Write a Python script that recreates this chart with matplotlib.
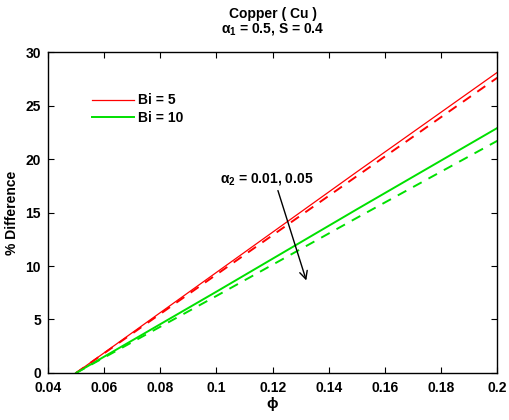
import numpy as np
import matplotlib
matplotlib.use('Agg')
import matplotlib.pyplot as plt

plt.rcParams['font.family'] = ['Liberation Sans', 'DejaVu Sans']
plt.rcParams['font.weight'] = 'bold'
plt.rcParams['axes.titleweight'] = 'bold'
plt.rcParams['axes.labelweight'] = 'bold'
plt.rcParams['mathtext.fontset'] = 'custom'
plt.rcParams['mathtext.rm'] = 'Liberation Sans:bold'
plt.rcParams['mathtext.it'] = 'Liberation Sans:bold'
plt.rcParams['mathtext.bf'] = 'Liberation Sans:bold'

# % difference vs volume fraction phi
phi = [0.05, 0.10, 0.15, 0.20]
bi5_a001 = [0.0, 9.4, 18.8, 28.1]
bi5_a005 = [0.0, 9.2, 18.4, 27.6]
bi10_a001 = [0.0, 7.6, 15.3, 22.9]
bi10_a005 = [0.0, 7.2, 14.5, 21.7]

fig = plt.figure(figsize=(5.1, 4.2), dpi=100)
ax = fig.add_axes([0.094, 0.112, 0.881, 0.764])

ax.plot(phi, bi5_a001, color='red', lw=0.9, label='Bi = 5')
ax.plot(phi, bi10_a001, color='#00e000', lw=1.4, label='Bi = 10')
ax.plot(phi, bi5_a005, color='red', lw=1.4, ls=(0, (5, 4)))
ax.plot(phi, bi10_a005, color='#00e000', lw=1.4, ls=(0, (5, 4)))

ax.set_xlim(0.04, 0.2)
ax.set_ylim(0, 30)
ax.set_xticks(np.arange(0.04, 0.201, 0.02))
ax.set_xticklabels(['0.04', '0.06', '0.08', '0.1', '0.12', '0.14', '0.16', '0.18', '0.2'])
ax.set_yticks(range(0, 31, 5))
ax.tick_params(direction='in', top=True, right=True, labelsize=10, length=4)
ax.tick_params(axis='x', pad=6)
ax.tick_params(axis='y', pad=5)
for s in ax.spines.values():
    s.set_linewidth(1.0)

ax.set_xlabel('ϕ', fontsize=11, labelpad=1)
ax.set_ylabel('% Difference', fontsize=10, labelpad=5)
ax.set_title('Copper ( Cu )\n' + r'$\alpha_1$ = 0.5, S = 0.4', fontsize=10, pad=14,
             linespacing=1.0)

ax.legend(loc='upper left', bbox_to_anchor=(0.07, 0.91), frameon=False,
          fontsize=10, handlelength=3.0, handletextpad=0.3, labelspacing=0.25)

ax.annotate('', xy=(0.1323, 8.4), xytext=(0.1216, 17.3),
            arrowprops=dict(arrowstyle='->', color='black', lw=1.0, mutation_scale=14))
ax.text(0.118, 17.4, r'$\alpha_2$ = 0.01, 0.05', fontsize=10, ha='center', va='bottom')

fig.savefig('out.png', dpi=100)
